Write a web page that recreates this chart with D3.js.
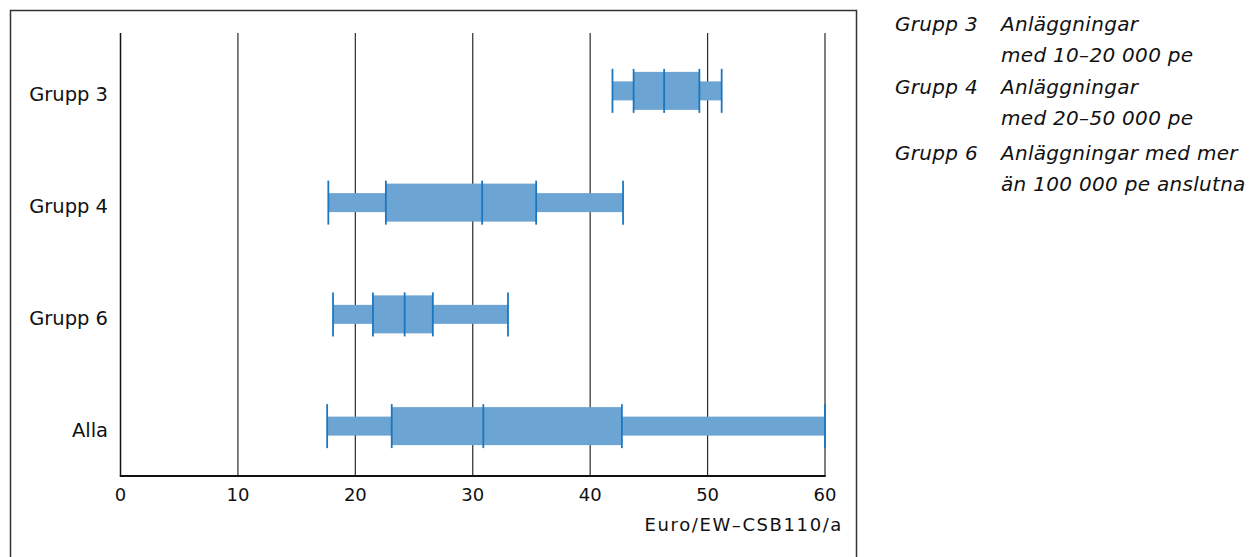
<!DOCTYPE html>
<html>
<head>
<meta charset="utf-8">
<script src="https://cdn.jsdelivr.net/npm/d3@7"></script>
<style>
  body { margin: 0; background: #fff; }
  svg { display: block; font-family: "DejaVu Sans", "Open Sans", sans-serif; }
</style>
</head>
<body>
<svg id="chart" width="1255" height="557"></svg>
<script>
// groups, top to bottom
var categories = ["Grupp 3", "Grupp 4", "Grupp 6", "Alla"];
// five-number summaries: min, Q1, median, Q3, max
var minValues = [41.9, 17.7, 18.1, 17.6];
var q1Values = [43.7, 22.6, 21.5, 23.1];
var medianValues = [46.3, 30.8, 24.2, 30.9];
var q3Values = [49.3, 35.4, 26.6, 42.7];
var maxValues = [51.2, 42.8, 33.0, 60];
var xTicks = [0, 10, 20, 30, 40, 50, 60];
var xTitle = "Euro/EW\u2013CSB110/a";
var legendGroups = ["Grupp 3", "Grupp 4", "Grupp 6"];
var legendTexts = [
    ["Anläggningar", "med 10\u201320 000 pe"],
    ["Anläggningar", "med 20\u201350 000 pe"],
    ["Anläggningar med mer", "än 100 000 pe anslutna"]
];

var svg = d3.select("#chart");
var fillColor = "#6ca4d3";
var lineColor = "#1b77c0";

// frame
svg.append("rect")
    .attr("x", 10.5).attr("y", 10.5)
    .attr("width", 846).attr("height", 560)
    .attr("fill", "none").attr("stroke", "#333").attr("stroke-width", 1.5);

var x = d3.scaleLinear().domain([0, 60]).range([120.5, 825]);
var y = d3.scaleBand().domain(categories).range([35, 482]);
var gridTop = 33, axisY = 476;

// vertical grid lines
svg.append("g").selectAll("line")
    .data(xTicks.slice(1))
    .join("line")
    .attr("x1", function (d) { return x(d); })
    .attr("x2", function (d) { return x(d); })
    .attr("y1", gridTop).attr("y2", axisY)
    .attr("stroke", "#2a2a2a").attr("stroke-width", 1.2);

// axes
svg.append("line")
    .attr("x1", x(0)).attr("x2", x(0)).attr("y1", gridTop).attr("y2", axisY)
    .attr("stroke", "#111").attr("stroke-width", 1.5);
svg.append("line")
    .attr("x1", x(0) - 0.7).attr("x2", x(60) + 0.7).attr("y1", axisY).attr("y2", axisY)
    .attr("stroke", "#111").attr("stroke-width", 1.8);

svg.append("g").selectAll("text")
    .data(xTicks)
    .join("text")
    .attr("x", function (d) { return x(d); })
    .attr("y", 501)
    .attr("text-anchor", "middle")
    .attr("font-size", 18).attr("fill", "#111")
    .text(function (d) { return d; });

svg.append("text")
    .attr("x", 843).attr("y", 531)
    .attr("text-anchor", "end")
    .attr("font-size", 18).attr("fill", "#111")
    .attr("letter-spacing", 1.6)
    .text(xTitle);

// category labels
svg.append("g").selectAll("text")
    .data(categories)
    .join("text")
    .attr("x", 108)
    .attr("y", function (d) { return y(d) + y.bandwidth() / 2 + 5; })
    .attr("text-anchor", "end")
    .attr("dominant-baseline", "middle")
    .attr("font-size", 19.5).attr("fill", "#111")
    .text(function (d) { return d; });

// box plots
var rows = categories.map(function (c, i) {
    return {
        cat: c, min: minValues[i], q1: q1Values[i], med: medianValues[i],
        q3: q3Values[i], max: maxValues[i]
    };
});
var boxH = 38, barH = 19, capH = 44;
var boxes = svg.append("g").selectAll("g")
    .data(rows)
    .join("g")
    .attr("transform", function (d) {
        return "translate(0," + (y(d.cat) + y.bandwidth() / 2) + ")";
    });

boxes.append("rect")
    .attr("x", function (d) { return x(d.min); })
    .attr("width", function (d) { return x(d.max) - x(d.min); })
    .attr("y", -barH / 2).attr("height", barH)
    .attr("fill", fillColor);
boxes.append("rect")
    .attr("x", function (d) { return x(d.q1); })
    .attr("width", function (d) { return x(d.q3) - x(d.q1); })
    .attr("y", -boxH / 2).attr("height", boxH)
    .attr("fill", fillColor);

// whisker caps and box dividers
boxes.each(function (d) {
    var g = d3.select(this);
    [d.min, d.q1, d.med, d.q3, d.max].forEach(function (v) {
        g.append("line")
            .attr("x1", x(v)).attr("x2", x(v))
            .attr("y1", -capH / 2).attr("y2", capH / 2)
            .attr("stroke", lineColor).attr("stroke-width", 1.8);
    });
});

// legend
var legend = svg.append("g")
    .attr("font-size", 20).attr("letter-spacing", 0.3)
    .attr("font-style", "italic").attr("fill", "#111");
var legendY = [31, 94, 160];
legendGroups.forEach(function (g, i) {
    legend.append("text").attr("x", 895).attr("y", legendY[i]).text(g);
    legendTexts[i].forEach(function (t, j) {
        legend.append("text")
            .attr("x", 1001)
            .attr("y", legendY[i] + j * 31)
            .text(t);
    });
});
</script>
</body>
</html>
